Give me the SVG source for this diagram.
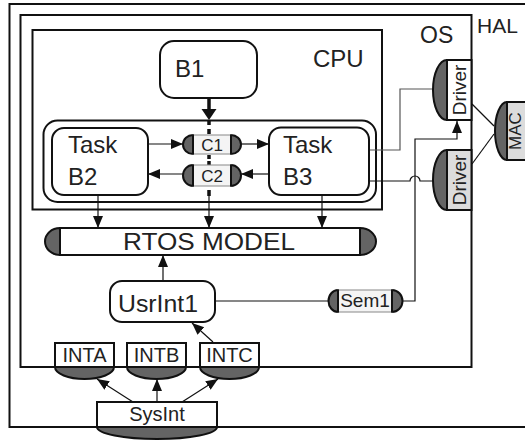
<svg xmlns="http://www.w3.org/2000/svg" width="525" height="440" viewBox="0 0 525 440">
<style>
text{font-family:"Liberation Sans",Arial,sans-serif;fill:#222}
.frame{fill:none;stroke:#111;stroke-width:2}
.box{fill:#fff;stroke:#111;stroke-width:2}
.dark{fill:#646464;stroke:#111;stroke-width:2}
.grey{fill:#dcdcdc;stroke:#111;stroke-width:2}
.chmid{fill:#f4f4f4;stroke:#888;stroke-width:1}
.bar{stroke:#111;stroke-width:2}
.ln{fill:none;stroke:#111;stroke-width:1.2}
.lg{fill:none;stroke:#555;stroke-width:1.2}
.t24{font-size:24px}
.t20{font-size:20px;text-anchor:middle}
.t17{font-size:17px;text-anchor:middle}
</style>
<defs>
<marker id="ah" viewBox="0 0 12 12" refX="12" refY="6" markerWidth="12" markerHeight="12" markerUnits="userSpaceOnUse" orient="auto">
<path d="M0,1 L12,6 L0,11 z" fill="#111"/>
</marker>
</defs>

<g id="HAL">
<rect class="frame" x="9.5" y="4" width="530" height="423"/>
<text x="477" y="33" style="font-size:21px">HAL</text>
</g>
<g id="OS">
<rect class="frame" x="20.5" y="15" width="451" height="352"/>
<text x="420" y="43" style="font-size:23px">OS</text>
</g>
<g id="CPU">
<rect class="frame" x="32.5" y="30" width="349.5" height="179.5"/>
<text class="t24" x="313" y="67">CPU</text>
<rect class="frame" x="43.5" y="120.5" width="332.5" height="81.5" rx="14"/>
</g>

<g id="connectors">
<line x1="209" y1="98" x2="209" y2="110" stroke="#111" stroke-width="3.5"/>
<path d="M201.5,109 L216.5,109 L209,120 z" fill="#111"/>
<g stroke="#111" stroke-width="3.5">
<line x1="209" y1="121" x2="209" y2="125"/>
<line x1="209" y1="129" x2="209" y2="134"/>
<line x1="209" y1="155" x2="209" y2="159"/>
<line x1="209" y1="161" x2="209" y2="165"/>
<line x1="209" y1="190" x2="209" y2="196"/>
</g>
<line class="ln" x1="209" y1="196" x2="209" y2="228" marker-end="url(#ah)"/>
<line class="ln" x1="148" y1="144" x2="183" y2="144" marker-end="url(#ah)"/>
<line class="ln" x1="241" y1="144" x2="269" y2="144" marker-end="url(#ah)"/>
<line class="ln" x1="269" y1="174" x2="241" y2="174" marker-end="url(#ah)"/>
<line class="ln" x1="183" y1="174" x2="148" y2="174" marker-end="url(#ah)"/>
<line class="ln" x1="98" y1="195" x2="98" y2="228" marker-end="url(#ah)"/>
<line class="ln" x1="322" y1="195" x2="322" y2="228" marker-end="url(#ah)"/>
<polyline class="lg" points="369,150 400,150 400,89 434,89"/>
<path class="ln" d="M369,181 L410,181 A5,5 0 0,1 420,181 L434,181"/>
<polyline class="ln" points="403,301 415,301 415,139 457,139 457,121" marker-end="url(#ah)"/>
<line class="ln" x1="472" y1="104" x2="494" y2="126"/>
<line class="ln" x1="472" y1="164" x2="494" y2="134"/>
<line class="ln" x1="215" y1="301" x2="328" y2="301"/>
<line class="ln" x1="163" y1="281" x2="163" y2="255" marker-end="url(#ah)"/>
<line class="ln" x1="213" y1="342" x2="192" y2="323" marker-end="url(#ah)"/>
<line class="ln" x1="133" y1="402" x2="97" y2="379" marker-end="url(#ah)"/>
<line class="ln" x1="157" y1="402" x2="157" y2="379" marker-end="url(#ah)"/>
<line class="ln" x1="182" y1="402" x2="218" y2="379" marker-end="url(#ah)"/>
</g>

<g id="B1">
<rect class="box" x="160" y="41" width="97" height="57" rx="14"/>
<text class="t24" x="175" y="77">B1</text>
</g>
<g id="TaskB2">
<rect class="box" x="52" y="128" width="96" height="67" rx="12"/>
<text class="t24" x="68" y="153">Task</text>
<text class="t24" x="68" y="185">B2</text>
</g>
<g id="TaskB3">
<rect class="box" x="269" y="127.5" width="100" height="67.5" rx="12"/>
<text class="t24" x="283" y="153">Task</text>
<text class="t24" x="283" y="185">B3</text>
</g>
<g id="C1">
<path class="dark" d="M193,135 A10,9.5 0 0,0 193,154 Z"/>
<path class="dark" d="M231,135 A10,9.5 0 0,1 231,154 Z"/>
<rect class="chmid" x="193" y="135" width="38" height="19"/>
<line class="bar" x1="193" y1="135" x2="193" y2="154"/>
<line class="bar" x1="231" y1="135" x2="231" y2="154"/>
<text class="t17" x="212" y="150.5">C1</text>
</g>
<g id="C2">
<path class="dark" d="M193,165 A10,10.5 0 0,0 193,186 Z"/>
<path class="dark" d="M231,165 A10,10.5 0 0,1 231,186 Z"/>
<rect class="chmid" x="193" y="165" width="38" height="21"/>
<line class="bar" x1="193" y1="165" x2="193" y2="186"/>
<line class="bar" x1="231" y1="165" x2="231" y2="186"/>
<text class="t17" x="212" y="181.5">C2</text>
</g>
<g id="RTOS">
<path class="dark" d="M60,228 A15,13.5 0 0,0 60,255 Z"/>
<path class="dark" d="M360,228 A16,13.5 0 0,1 360,255 Z"/>
<rect class="box" x="60" y="228" width="300" height="27"/>
<text x="123" y="249.5" style="font-size:23px" textLength="172" lengthAdjust="spacingAndGlyphs">RTOS MODEL</text>
</g>
<g id="UsrInt1">
<rect class="box" x="110" y="281" width="105" height="41" rx="12"/>
<text x="118" y="312" style="font-size:24px" textLength="80" lengthAdjust="spacingAndGlyphs">UsrInt1</text>
</g>
<g id="Sem1">
<path class="dark" d="M338,290 A9.5,11 0 0,0 338,312 Z"/>
<path class="dark" d="M392,290 A10.5,11 0 0,1 392,312 Z"/>
<rect class="chmid" x="338" y="290" width="54" height="22"/>
<line class="bar" x1="338" y1="290" x2="338" y2="312"/>
<line class="bar" x1="392" y1="290" x2="392" y2="312"/>
<text x="365" y="306.5" style="font-size:19px;text-anchor:middle">Sem1</text>
</g>
<g id="Driver1">
<path class="dark" d="M447,60 A14,30 0 0,0 447,120 Z"/>
<rect class="box" x="447" y="60" width="24.5" height="60"/>
<text transform="translate(466,90) rotate(-90)" style="font-size:19px;text-anchor:middle">Driver</text>
</g>
<g id="Driver2">
<path class="dark" d="M447,150 A14,30 0 0,0 447,210 Z"/>
<rect class="grey" x="447" y="150" width="24.5" height="60"/>
<text transform="translate(466,180) rotate(-90)" style="font-size:19px;text-anchor:middle">Driver</text>
</g>
<g id="MAC">
<path class="dark" d="M507,102 A12,29 0 0,0 507,160 Z"/>
<rect class="grey" x="507" y="102" width="25" height="58"/>
<text transform="translate(521,131) rotate(-90)" style="font-size:17px;text-anchor:middle">MAC</text>
</g>
<g id="INTA">
<path class="dark" d="M55,367 A29.5,12 0 0,0 114,367 Z"/>
<rect class="box" x="55" y="343" width="59" height="24"/>
<text class="t20" x="84.5" y="362">INTA</text>
</g>
<g id="INTB">
<path class="dark" d="M127,367 A29.5,12 0 0,0 186,367 Z"/>
<rect class="box" x="127" y="343" width="59" height="24"/>
<text class="t20" x="156.5" y="362">INTB</text>
</g>
<g id="INTC">
<path class="dark" d="M200,367 A29.5,12 0 0,0 259,367 Z"/>
<rect class="box" x="200" y="343" width="59" height="24"/>
<text class="t20" x="229.5" y="362">INTC</text>
</g>
<g id="SysInt">
<path class="dark" d="M97,427 A60,12 0 0,0 217,427 Z"/>
<rect class="box" x="97" y="402" width="120" height="25"/>
<text class="t20" x="157" y="420.5">SysInt</text>
</g>
</svg>
